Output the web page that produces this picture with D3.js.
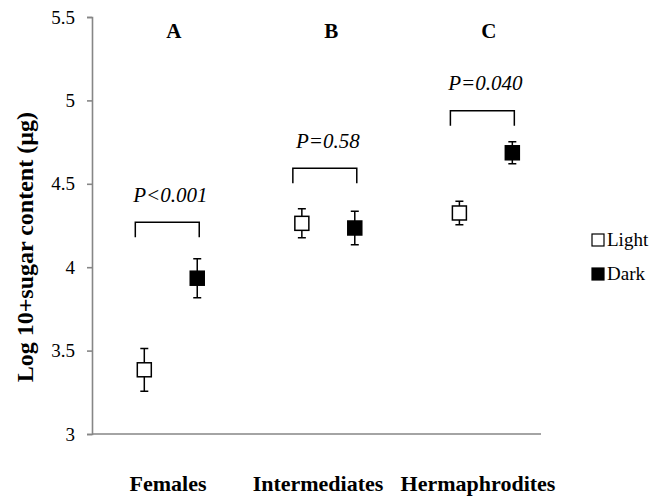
<!DOCTYPE html>
<html>
<head>
<meta charset="utf-8">
<script src="https://cdn.jsdelivr.net/npm/d3@7"></script>
<style>
  body { margin: 0; background: #fff; }
</style>
</head>
<body>
<svg id="chart" width="651" height="496"></svg>
<script>
// Values (log10 + sugar content, mean +/- error)
const groups = ["Females", "Intermediates", "Hermaphrodites"];
const groupLetters = ["A", "B", "C"];
const lightMeans = [3.385, 4.263, 4.325];
const lightErr = [0.128, 0.087, 0.07];
const darkMeans = [3.934, 4.235, 4.686];
const darkErr = [0.117, 0.10, 0.066];
const pLabels = ["P<0.001", "P=0.58", "P=0.040"];
const bracketTop = [4.27, 4.593, 4.938];
const pBaseline = [4.392, 4.717, 5.062];
const yTicks = [3, 3.5, 4, 4.5, 5, 5.5];
const seriesNames = ["Light", "Dark"];

const serif = '"Liberation Serif"';
const svg = d3.select("#chart");
const margin = { top: 17, right: 110, bottom: 62, left: 92 };
const width = +svg.attr("width");
const height = +svg.attr("height");

svg.append("rect").attr("width", width).attr("height", height).attr("fill", "#fff");

// group positions 1..3, light/dark offset either side
const x = d3.scaleLinear()
  .domain([0.5, 3.35])
  .range([margin.left, width - margin.right]);

const y = d3.scaleLinear()
  .domain([3, 5.5])
  .range([height - margin.bottom, margin.top]);

const offset = 0.168;
const boxSize = 14;

// axes
const yAxis = svg.append("g")
  .attr("transform", `translate(${margin.left},0)`)
  .call(d3.axisLeft(y).tickValues(yTicks).tickFormat(d => d).tickSizeOuter(0).tickSize(5).tickPadding(12));
yAxis.select(".domain").attr("stroke", "#868686").attr("stroke-width", 1.6);
yAxis.selectAll(".tick line").attr("stroke", "#868686").attr("stroke-width", 1.6);
yAxis.selectAll(".tick text")
  .style("font-size", "19px")
  .attr("fill", "#000");

svg.append("line")
  .attr("x1", margin.left).attr("x2", width - margin.right)
  .attr("y1", y(3)).attr("y2", y(3))
  .attr("stroke", "#868686").attr("stroke-width", 1.6);

// y title
svg.append("text")
  .attr("transform", `translate(33,${y(4.12)}) rotate(-90)`)
  .attr("text-anchor", "middle")
  .style("font-weight", "bold")
  .style("font-size", "24px")
  .text("Log 10+sugar content (\u00b5g)");

// category labels
const labelX = [168, 318, 478];
svg.append("g")
  .selectAll("text")
  .data(groups)
  .join("text")
    .attr("x", (d, i) => labelX[i])
    .attr("y", 491)
    .attr("text-anchor", "middle")
    .style("font-weight", "bold")
    .style("font-size", "22px")
    .text(d => d);

// group letters
svg.append("g")
  .selectAll("text")
  .data(groupLetters)
  .join("text")
    .attr("x", (d, i) => x(i + 1) + 3)
    .attr("y", 38)
    .attr("text-anchor", "middle")
    .style("font-weight", "bold")
    .style("font-size", "21px")
    .text(d => d);

// brackets + p-values
const brackets = svg.append("g");
groups.forEach((g, i) => {
  const x0 = x(i + 1 - offset) - 9;
  const x1 = x(i + 1 + offset) + 2;
  const yt = y(bracketTop[i]);
  brackets.append("path")
    .attr("d", `M${x0},${yt + 15}V${yt}H${x1}V${yt + 15}`)
    .attr("fill", "none")
    .attr("stroke", "#000")
    .attr("stroke-width", 1.5);
  brackets.append("text")
    .attr("x", (x0 + x1) / 2 + 3)
    .attr("y", y(pBaseline[i]))
    .attr("text-anchor", "middle")
    .style("font-style", "italic")
    .style("font-size", "21px")
    .text(pLabels[i]);
});

// points with error bars
const points = [];
groups.forEach((g, i) => {
  points.push({ pos: i + 1 - offset, mean: lightMeans[i], err: lightErr[i], fill: "#fff" });
  points.push({ pos: i + 1 + offset, mean: darkMeans[i], err: darkErr[i], fill: "#000" });
});

const pt = svg.append("g")
  .selectAll("g")
  .data(points)
  .join("g")
    .attr("transform", d => `translate(${x(d.pos)},0)`);

pt.append("path")
  .attr("d", d => `M-4,${y(d.mean + d.err)}H4M0,${y(d.mean + d.err)}V${y(d.mean - d.err)}M-4,${y(d.mean - d.err)}H4`)
  .attr("stroke", "#000")
  .attr("stroke-width", 1.5)
  .attr("fill", "none");

pt.append("rect")
  .attr("x", -boxSize / 2)
  .attr("y", d => y(d.mean) - boxSize / 2)
  .attr("width", boxSize)
  .attr("height", boxSize)
  .attr("fill", d => d.fill)
  .attr("stroke", "#000")
  .attr("stroke-width", 1.5);

// legend
const legend = svg.append("g")
  .selectAll("g")
  .data(seriesNames)
  .join("g")
    .attr("transform", (d, i) => `translate(592,${234 + i * 34})`);

legend.append("rect")
  .attr("width", 12)
  .attr("height", 12)
  .attr("fill", (d, i) => i === 0 ? "#fff" : "#000")
  .attr("stroke", "#000")
  .attr("stroke-width", 1.2);

legend.append("text")
  .attr("x", 15)
  .attr("y", 12)
  .style("font-size", "19px")
  .text(d => d);

// serif face on every label (the axis sets sans-serif by default)
svg.selectAll("text").style("font-family", serif).attr("fill", "#000");
</script>
</body>
</html>
